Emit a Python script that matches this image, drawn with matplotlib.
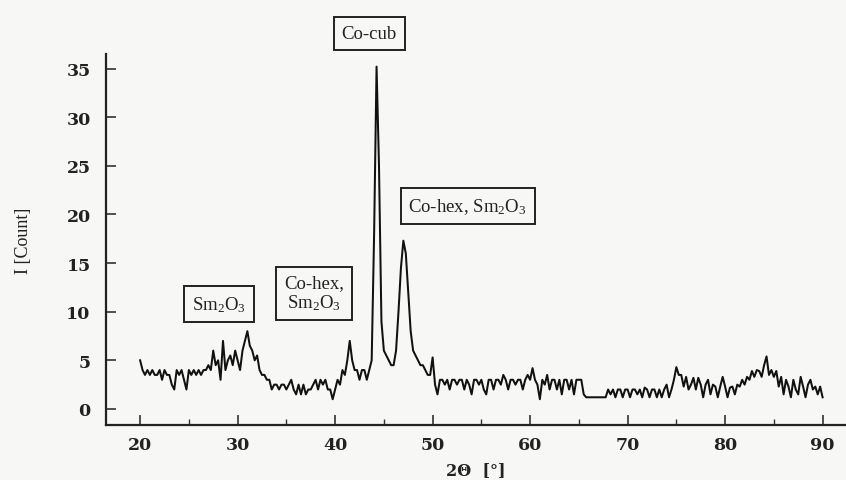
import numpy as np
import matplotlib
matplotlib.use("Agg")
import matplotlib.pyplot as plt
from matplotlib.ticker import MultipleLocator

# ---- data (2-theta step 0.25 deg, 20..90) ----
two_theta_start = 20.0
two_theta_step = 0.25
counts = [
    5.0, 4.0, 3.5, 4.0,     # 20
    3.5, 4.0, 3.5, 3.5,     # 21
    4.0, 3.0, 4.0, 3.5,     # 22
    3.5, 2.5, 2.0, 4.0,     # 23
    3.5, 4.0, 3.0, 2.0,     # 24
    4.0, 3.5, 4.0, 3.5,     # 25
    4.0, 3.5, 4.0, 4.0,     # 26
    4.5, 4.0, 6.0, 4.5,     # 27
    5.0, 3.0, 7.0, 4.0,     # 28
    5.0, 5.5, 4.5, 6.0,     # 29
    5.0, 4.0, 6.0, 7.0,     # 30
    8.0, 6.5, 6.0, 5.0,     # 31
    5.5, 4.0, 3.5, 3.5,     # 32
    3.0, 3.0, 2.0, 2.5,     # 33
    2.5, 2.0, 2.5, 2.5,     # 34
    2.0, 2.5, 3.0, 2.0,     # 35
    1.5, 2.5, 1.5, 2.5,     # 36
    1.5, 2.0, 2.0, 2.5,     # 37
    3.0, 2.0, 3.0, 2.5,     # 38
    3.0, 2.0, 2.0, 1.0,     # 39
    2.0, 3.0, 2.5, 4.0,     # 40
    3.5, 5.0, 7.0, 5.0,     # 41
    4.0, 4.0, 3.0, 4.0,     # 42
    4.0, 3.0, 4.0, 5.0,     # 43
    18.0, 35.2, 25.0, 9.0,  # 44
    6.0, 5.5, 5.0, 4.5,     # 45
    4.5, 6.0, 10.0, 14.5,   # 46
    17.3, 16.0, 12.0, 8.0,  # 47
    6.0, 5.5, 5.0, 4.5,     # 48
    4.5, 4.0, 3.5, 3.5,     # 49
    5.3, 2.5, 1.5, 3.0,     # 50
    3.0, 2.5, 3.0, 2.0,     # 51
    3.0, 3.0, 2.5, 3.0,     # 52
    3.0, 2.0, 3.0, 2.5,     # 53
    1.5, 3.0, 3.0, 2.5,     # 54
    3.0, 2.0, 1.5, 3.0,     # 55
    3.0, 2.0, 3.0, 3.0,     # 56
    2.5, 3.5, 3.0, 2.0,     # 57
    3.0, 3.0, 2.5, 3.0,     # 58
    3.0, 2.0, 3.0, 3.5,     # 59
    3.0, 4.2, 3.0, 2.5,     # 60
    1.0, 3.0, 2.5, 3.5,     # 61
    2.0, 3.0, 3.0, 2.0,     # 62
    3.0, 1.5, 3.0, 3.0,     # 63
    2.0, 3.0, 1.5, 3.0,     # 64
    3.0, 3.0, 1.5, 1.2,     # 65
    1.2, 1.2, 1.2, 1.2,     # 66
    1.2, 1.2, 1.2, 1.2,     # 67
    2.0, 1.5, 2.0, 1.2,     # 68
    2.0, 2.0, 1.2, 2.0,     # 69
    2.0, 1.2, 2.0, 2.0,     # 70
    1.5, 2.0, 1.2, 2.2,     # 71
    2.0, 1.2, 2.0, 2.0,     # 72
    1.2, 2.0, 1.2, 2.0,     # 73
    2.5, 1.2, 2.0, 3.0,     # 74
    4.3, 3.5, 3.5, 2.3,     # 75
    3.3, 2.0, 2.5, 3.2,     # 76
    2.0, 3.2, 2.5, 1.2,     # 77
    2.5, 3.0, 1.5, 2.5,     # 78
    2.3, 1.2, 2.3, 3.3,     # 79
    2.3, 1.2, 2.2, 2.3,     # 80
    1.5, 2.5, 2.3, 3.0,     # 81
    2.5, 3.3, 3.0, 3.9,     # 82
    3.3, 4.0, 3.9, 3.3,     # 83
    4.5, 5.4, 3.5, 4.0,     # 84
    3.3, 3.9, 2.3, 3.3,     # 85
    1.5, 3.0, 2.3, 1.2,     # 86
    3.0, 2.0, 1.5, 3.3,     # 87
    2.3, 1.2, 2.5, 3.0,     # 88
    2.0, 2.3, 1.5, 2.3,     # 89
    1.2,                    # 90
]
two_theta = two_theta_start + two_theta_step * np.arange(len(counts))

x_ticks = [20, 30, 40, 50, 60, 70, 80, 90]
y_ticks = [0, 5, 10, 15, 20, 25, 30, 35]

annotations = [
    ("Sm$_\\mathrm{2}$O$_\\mathrm{3}$", 28.1, 10.8),
    ("Co-hex,\nSm$_\\mathrm{2}$O$_\\mathrm{3}$", 37.85, 11.9),
    ("Co-cub", 43.5, 38.6),
    ("Co-hex, Sm$_\\mathrm{2}$O$_\\mathrm{3}$", 53.6, 20.85),
]

# ---- styling ----
plt.rcParams['mathtext.fontset'] = 'custom'
plt.rcParams['mathtext.rm'] = 'Liberation Serif'
plt.rcParams['mathtext.it'] = 'Liberation Serif:italic'

bg = '#f7f7f5'
fig = plt.figure(figsize=(8.46, 4.81), dpi=100, facecolor=bg)
ax = fig.add_axes([106/846, (481-426)/481, (846-106)/846, (426-55)/481])
ax.set_facecolor(bg)

ax.plot(two_theta, counts, color='#111111', lw=1.45)

ax.set_xlim(16.5, 92.4)
ax.set_ylim(-1.65, 36.5)

for s in ['top', 'right']:
    ax.spines[s].set_visible(False)
for s in ['left', 'bottom']:
    ax.spines[s].set_linewidth(1.6)
    ax.spines[s].set_color('#222222')

ax.set_xticks(x_ticks)
ax.set_yticks(y_ticks)
ax.xaxis.set_minor_locator(MultipleLocator(5))
ax.tick_params(axis='both', which='major', direction='in', length=7, width=1.2,
               color='#333333', pad=8)
ax.tick_params(axis='x', which='minor', direction='in', length=4, width=1.0,
               color='#333333')
ax.tick_params(axis='y', which='major', pad=11)

for lab in ax.get_xticklabels() + ax.get_yticklabels():
    lab.set_fontfamily('DejaVu Serif')
    lab.set_fontweight('bold')
    lab.set_fontsize(12.5)
    lab.set_color('#222222')

ax.set_xlabel("2\u0398  [\u00b0]", fontfamily='DejaVu Serif', fontweight='bold',
              fontsize=11.5, color='#222222', labelpad=6)
ax.set_ylabel("I [Count]", fontfamily='Liberation Serif', fontsize=13,
              color='#222222', labelpad=25)

for text, xv, yv in annotations:
    ax.text(xv, yv, text, ha='center', va='center', fontfamily='Liberation Serif',
            fontsize=13.5, color='#222222', clip_on=False, linespacing=1.05,
            bbox=dict(boxstyle='square,pad=0.42', facecolor=bg,
                      edgecolor='#222222', linewidth=1.4))

fig.savefig('out.png', dpi=100, facecolor=bg)
